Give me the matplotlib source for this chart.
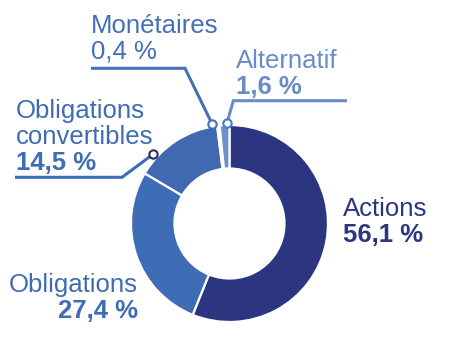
import matplotlib.pyplot as plt

plt.rcParams["font.family"] = ["Liberation Sans", "DejaVu Sans"]

# Data (clockwise from 12 o'clock)
categories = ["Actions", "Obligations", "Obligations\nconvertibles", "Monétaires", "Alternatif"]
values = [56.1, 27.4, 14.5, 0.4, 1.6]
value_labels = ["56,1 %", "27,4 %", "14,5 %", "0,4 %", "1,6 %"]
colors = ["#2c3680", "#3e6cb5", "#4069b1", "#a4b6dd", "#7090cc"]
text_colors = ["#2c3680", "#3e6cb5", "#3e6cb5", "#4470b8", "#6a8bc9"]

W, H = 450, 350
fig = plt.figure(figsize=(4.5, 3.5), dpi=100)
ax = fig.add_axes([0, 0, 1, 1])
ax.set_xlim(0, W)
ax.set_ylim(0, H)
ax.set_aspect("equal")
ax.axis("off")


def py(y):
    # pixel row (from top) -> data y
    return H - y


cx, cy, r_out, r_in = 229.5, 223.5, 98.5, 55
ax.pie(
    values,
    colors=colors,
    startangle=90,
    counterclock=False,
    center=(cx, py(cy)),
    radius=r_out,
    wedgeprops=dict(width=r_out - r_in, edgecolor="white", linewidth=1.6),
    frame=True,
)
ax.set_xlim(0, W)
ax.set_ylim(0, H)
ax.axis("off")

fs = 18.5


def label(x, y, name, val, col, ha="left", bold_val=True):
    lines = name.split("\n")
    for i, ln in enumerate(lines):
        ax.text(x, py(y + i * 26), ln, color=col, fontsize=fs, ha=ha, va="baseline")
    ax.text(x, py(y + len(lines) * 26), val, color=col, fontsize=fs, ha=ha,
            va="baseline", fontweight="bold" if bold_val else "normal")


label(343, 216, categories[0], value_labels[0], text_colors[0])
label(138, 292, categories[1], value_labels[1], text_colors[1], ha="right")
label(16, 118, categories[2], value_labels[2], text_colors[2])
label(91, 33, categories[3], value_labels[3], text_colors[3], bold_val=False)
label(236, 68, categories[4], value_labels[4], text_colors[4])

# leader lines
leaders = [
    ([15, 122, 153], [177.3, 177.3, 154.3], text_colors[2], "#2a2d5c"),
    ([91, 185, 212.3], [68.3, 68.3, 124.3], text_colors[3], text_colors[3]),
    ([347, 233.3, 227], [100.7, 100.7, 123], text_colors[4], "#3d7fc4"),
]
for xs, ys, lc, mc in leaders:
    ax.plot(xs, [py(v) for v in ys], color=lc, lw=2.2, solid_capstyle="butt",
            solid_joinstyle="miter", zorder=3)
    ax.plot(xs[-1], py(ys[-1]), "o", ms=6, mfc="white", mec=mc, mew=1.5, zorder=4)

fig.savefig("out.png", dpi=100)
